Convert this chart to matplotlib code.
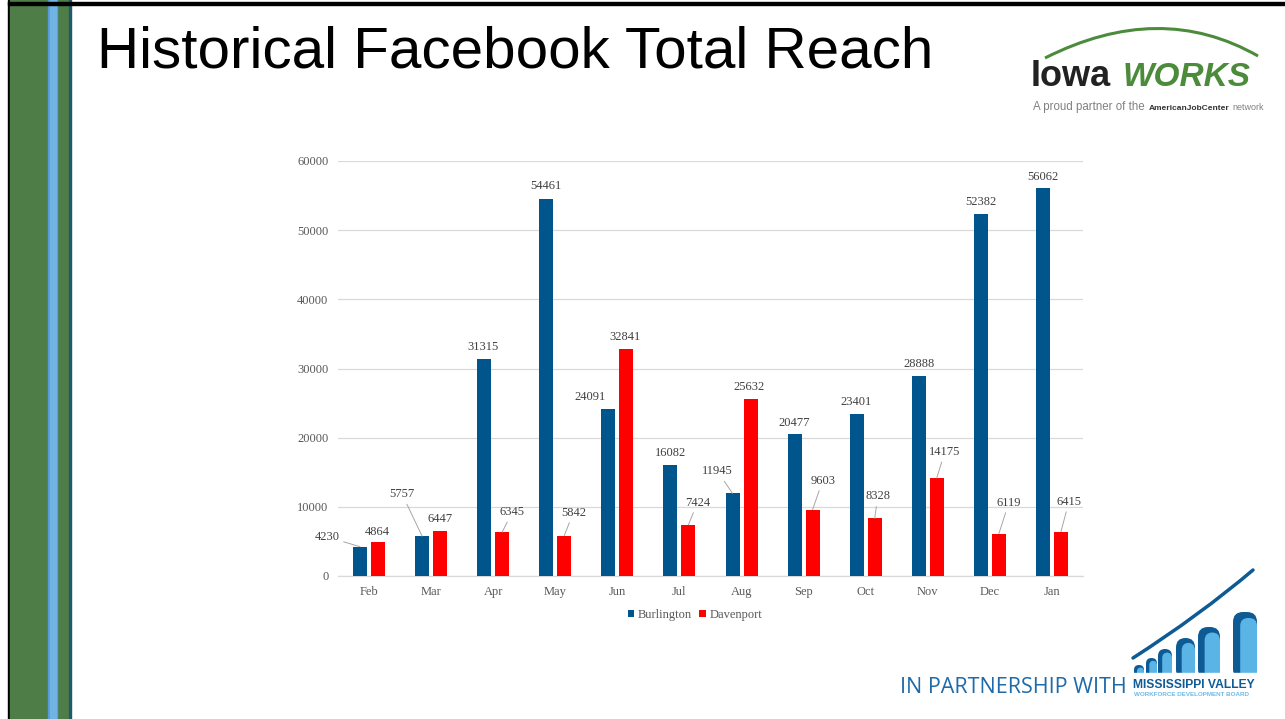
import numpy as np
import matplotlib
matplotlib.use('Agg')
import matplotlib.pyplot as plt
from matplotlib.patches import Rectangle, FancyBboxPatch, PathPatch
from matplotlib.path import Path

months = ['Feb', 'Mar', 'Apr', 'May', 'Jun', 'Jul', 'Aug', 'Sep', 'Oct', 'Nov', 'Dec', 'Jan']
burlington = [4230, 5757, 31315, 54461, 24091, 16082, 11945, 20477, 23401, 28888, 52382, 56062]
davenport = [4864, 6447, 6345, 5842, 32841, 7424, 25632, 9603, 8328, 14175, 6119, 6415]

# data label offsets (pixels from bar top), as placed in the original
burl_offsets = [(-33, 10), (-20, 42), (-1, 12), (0, 13), (-18, 12), (0, 12),
                (-15, 22), (0, 11), (-1, 12), (0, 12), (0, 12), (0, 11)]
dav_offsets = [(-1, 10), (0, 12), (10, 20), (9, 23), (-1, 12), (9, 22),
               (-1, 12), (10, 29), (3, 22), (8, 26), (10, 31), (8, 30)]

BLUE = '#00558c'
RED = '#ff0000'
GRAY = '#595959'
serif = ['Liberation Serif', 'DejaVu Serif']
sans = ['Liberation Sans', 'DejaVu Sans']

fig = plt.figure(figsize=(12.85, 7.19), dpi=100)

# slide decoration layer in pixel coordinates
deco = fig.add_axes([0, 0, 1, 1], zorder=0)
deco.set_xlim(0, 1285)
deco.set_ylim(719, 0)
deco.axis('off')

deco.add_patch(Rectangle((8, 0), 2, 719, color='black'))
deco.add_patch(Rectangle((10, 0), 59, 719, color='#4f7d47'))
deco.add_patch(Rectangle((48, 0), 9, 719, color='#5b9bd5'))
deco.add_patch(Rectangle((49.5, 0), 6, 719, color='#70b4e6'))
deco.add_patch(Rectangle((69, 0), 2, 719, color='#1f5a6a'))
deco.add_patch(Rectangle((8, 2), 1277, 2.5, color='black'))

deco.text(97, 68, 'Historical Facebook Total Reach', fontsize=42,
          family=sans, color='black', va='baseline', ha='left')

# IowaWORKS logo
arc = Path([(1045, 58), (1160, 0), (1258, 56)], [Path.MOVETO, Path.CURVE3, Path.CURVE3])
deco.add_patch(PathPatch(arc, fill=False, edgecolor='#4b8b3b', lw=2.2))
deco.text(1031, 86, 'Iowa', fontsize=26, family=sans, fontweight='bold',
          color='#222222', va='baseline', ha='left')
deco.text(1123, 86, 'WORKS', fontsize=24, family=sans, fontweight='bold',
          style='italic', color='#4b8b3b', va='baseline', ha='left')
deco.text(1033, 110, 'A proud partner of the', fontsize=8.3, family=sans,
          color='#808080', va='baseline', ha='left')
deco.text(1149, 110, 'AmericanJobCenter', fontsize=6.0, family=sans,
          fontweight='bold', color='#333333', va='baseline', ha='left')
deco.text(1232, 110, 'network', fontsize=6.5, family=sans,
          color='#808080', va='baseline', ha='left')

# partnership footer
deco.text(900, 693, 'IN PARTNERSHIP WITH', fontsize=15.5, family=['Open Sans', 'DejaVu Sans'],
          color='#1f6aa8', va='baseline', ha='left')
deco.text(1133, 688, 'MISSISSIPPI VALLEY', fontsize=8.7, family=sans, fontweight='bold',
          color='#0f5b95', va='baseline', ha='left', zorder=4)
deco.text(1134, 696, 'WORKFORCE DEVELOPMENT BOARD', fontsize=4.5, family=sans,
          fontweight='bold', color='#6bbbe8', va='baseline', ha='left', zorder=4)
icon = [(1134, 10, 665), (1146, 11, 658), (1158, 14, 649), (1176, 19, 638),
        (1198, 22, 627), (1233, 24, 612)]
for x0, w, top in icon:
    r = min(w / 2, 10)
    deco.add_patch(FancyBboxPatch((x0, top), w, 673 - top + 6,
                                  boxstyle='round,pad=0,rounding_size=%g' % r,
                                  facecolor='#0d5a94', edgecolor='none'))
    deco.add_patch(FancyBboxPatch((x0 + w * 0.3, top + w * 0.25), w * 0.7, 673 - top - w * 0.25 + 6,
                                  boxstyle='round,pad=0,rounding_size=%g' % (r * 0.8),
                                  facecolor='#5ab4e5', edgecolor='none'))
deco.add_patch(Rectangle((1125, 673), 140, 8, color='white', zorder=3))
swoosh = Path([(1133, 658), (1200, 615), (1253, 570)], [Path.MOVETO, Path.CURVE3, Path.CURVE3])
deco.add_patch(PathPatch(swoosh, fill=False, edgecolor='#0d5a94', lw=2.5, capstyle='round'))

# chart
ax = fig.add_axes([338 / 1285, 1 - 576 / 719, 745 / 1285, 415 / 719], zorder=1)
ax.patch.set_alpha(0)
x = np.arange(len(months))
off = 0.145
w = 0.226
ax.bar(x - off, burlington, width=w, color=BLUE, label='Burlington', zorder=3)
ax.bar(x + off, davenport, width=w, color=RED, label='Davenport', zorder=3)

ax.set_xlim(-0.5, len(months) - 0.5)
ax.set_ylim(0, 60000)
ax.set_yticks(np.arange(0, 60001, 10000))
ax.set_xticks(x)
ax.set_xticklabels(months)
ax.grid(axis='y', color='#d9d9d9', lw=0.9, zorder=0)
for s in ['top', 'right', 'left']:
    ax.spines[s].set_visible(False)
ax.spines['bottom'].set_color('#d9d9d9')
ax.spines['bottom'].set_linewidth(0.9)
ax.tick_params(length=0, labelsize=9, labelcolor=GRAY, pad=7)
for lab in ax.get_xticklabels() + ax.get_yticklabels():
    lab.set_family(serif)

for vals, xs, offs in [(burlington, x - off, burl_offsets), (davenport, x + off, dav_offsets)]:
    for xi, v, (dx, dy) in zip(xs, vals, offs):
        leader = dy > 15 or dx < -25
        ax.annotate(str(v), xy=(xi, v), xytext=(dx, dy), textcoords='offset pixels',
                    ha='center', va='center', fontsize=9, family=serif, color='#404040',
                    zorder=4,
                    arrowprops=dict(arrowstyle='-', color='#a6a6a6', lw=0.7,
                                    shrinkA=1, shrinkB=0) if leader else None)

leg = ax.legend(loc='center', bbox_to_anchor=(0.479, -0.094), ncol=2, frameon=False,
                handlelength=0.5, handleheight=0.5, handletextpad=0.3, columnspacing=0.6,
                prop={'family': serif, 'size': 9})
for t in leg.get_texts():
    t.set_color(GRAY)

fig.savefig('out.png', dpi=100)
